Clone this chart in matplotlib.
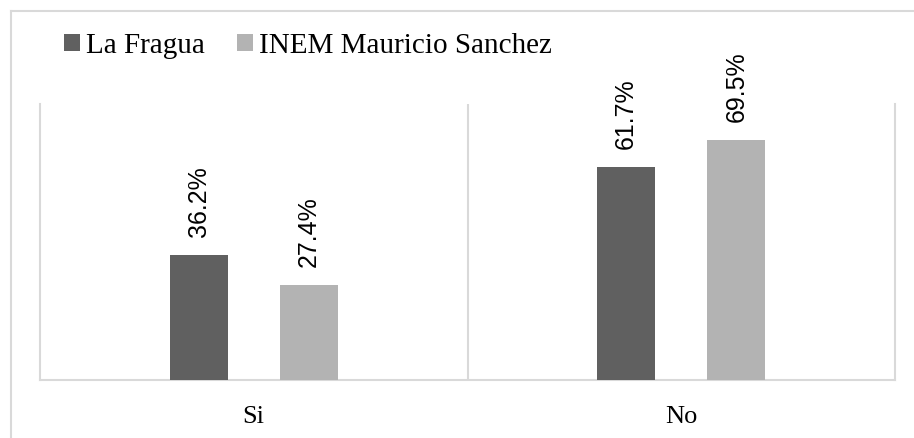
from matplotlib import pyplot as plt
from matplotlib.lines import Line2D

categories = ["Si", "No"]
series_names = ["La Fragua", "INEM Mauricio Sanchez"]
la_fragua = [36.2, 61.7]
inem = [27.4, 69.5]
colors = ["#606060", "#b3b3b3"]
grid_gray = "#d9d9d9"

fig = plt.figure(figsize=(9.14, 4.38), dpi=100)
ax = fig.add_axes([40 / 914, 58 / 438, 855 / 914, 276 / 438])

x = range(len(categories))
offset = 0.129
width = 0.136
series = [la_fragua, inem]
for i, vals in enumerate(series):
	pos = [c + (2 * i - 1) * offset for c in x]
	bars = ax.bar(pos, vals, width, color=colors[i], label=series_names[i], zorder=3)
	for b, v in zip(bars, vals):
		ax.annotate("%.1f%%" % v, (b.get_x() + b.get_width() / 2, v),
			xytext=(0, 13), textcoords="offset points", rotation=90,
			ha="center", va="bottom", fontsize=18, family="Liberation Sans")

ax.set_xlim(-0.5, 1.5)
ax.set_ylim(0, 80)
ax.set_yticks([])
ax.set_xticks(list(x))
ax.set_xticklabels(categories, family="Liberation Serif", fontsize=19)
ax.tick_params(axis="x", length=0, pad=19)
ax.spines["top"].set_visible(False)
for s in ["left", "right", "bottom"]:
	ax.spines[s].set_color(grid_gray)
	ax.spines[s].set_linewidth(1.5)
ax.axvline(0.5, color=grid_gray, lw=1.5, zorder=1)

leg = fig.legend(loc="upper left", bbox_to_anchor=(64 / 914, 1 - 33 / 438), ncol=2,
	frameon=False, handlelength=0.55, handleheight=0.55, handletextpad=0.2,
	columnspacing=1.1, prop={"family": "Liberation Serif", "size": 21},
	borderaxespad=0, borderpad=0)

# outer chart frame (top and left edges visible)
fig.add_artist(Line2D([11 / 914, 1], [1 - 11 / 438, 1 - 11 / 438], color=grid_gray, lw=1.5))
fig.add_artist(Line2D([11 / 914, 11 / 914], [0, 1 - 11 / 438], color=grid_gray, lw=1.5))

plt.savefig("out.png", dpi=100)
